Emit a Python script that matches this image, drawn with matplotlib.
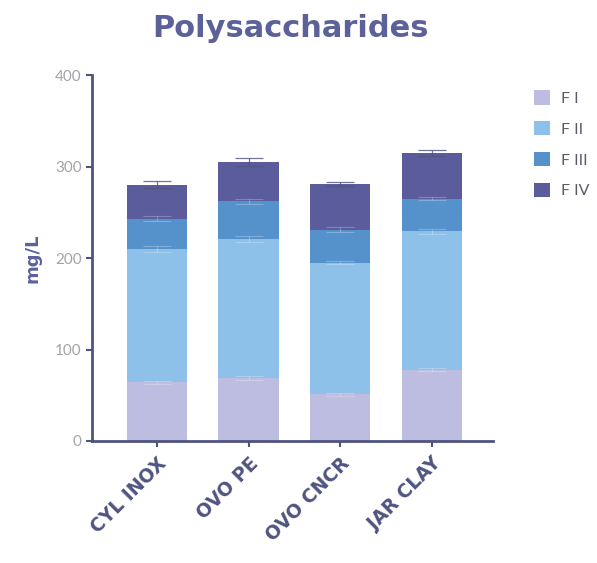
import matplotlib
matplotlib.use("Agg")
import matplotlib.pyplot as plt
import numpy as np
from matplotlib.patches import Patch

# Polysaccharide fractions per vessel (mg/L)
vessels = ["CYL INOX", "OVO PE", "OVO CNCR", "JAR CLAY"]
fractions = ["F I", "F II", "F III", "F IV"]
f1 = [64, 69, 51, 78]
f2 = [146, 152, 144, 151]
f3 = [33, 41, 36, 36]
f4 = [37, 43, 50, 50]
err1 = [2, 2, 2, 2]
err2 = [3, 3, 2, 3]
err3 = [3, 3, 3, 2]
err4 = [4, 4, 2, 3]

colors = ["#bcbde0", "#8dc1ea", "#5592cc", "#5b5c9c"]
axis_color = "#4f5380"
title_color = "#5d6199"
tick_color = "#a3a3a8"

plt.rcParams["font.family"] = ["Lato", "DejaVu Sans"]

fig = plt.figure(figsize=(5.97, 5.63), dpi=100)
ax = fig.add_axes([0.154, 0.2167, 0.672, 0.65])

x = np.arange(len(vessels))
width = 0.66
series = [f1, f2, f3, f4]
errs = [err1, err2, err3, err4]
bottom = np.zeros(len(vessels))
for i, (vals, e) in enumerate(zip(series, errs)):
    vals = np.array(vals, dtype=float)
    ax.bar(x, vals, width, bottom=bottom, color=colors[i], edgecolor="none",
           label=fractions[i], zorder=2)
    top = bottom + vals
    if i < len(series) - 1:
        ax.errorbar(x, top, yerr=e, fmt="none", ecolor="white", alpha=0.25,
                    elinewidth=0.8, capsize=10, capthick=0.8, zorder=3)
    else:
        ax.errorbar(x, top, yerr=e, fmt="none", ecolor=axis_color, alpha=0.8,
                    elinewidth=0.9, capsize=10, capthick=0.9, zorder=3)
    bottom = top

ax.set_xlim(-0.71, 3.67)
ax.set_ylim(0, 400)
ax.set_yticks([0, 100, 200, 300, 400])
ax.set_xticks(x)
ax.set_xticklabels(vessels, rotation=45, ha="right", rotation_mode="anchor",
                   fontsize=13.5, fontweight="bold", color=title_color,
                   family="DejaVu Sans")
ax.tick_params(axis="y", colors=axis_color, labelcolor=tick_color,
               labelsize=11, length=4, width=1.5)
ax.tick_params(axis="x", colors=axis_color, length=4, width=1.5, pad=5)

for side in ["top", "right"]:
    ax.spines[side].set_visible(False)
for side in ["left", "bottom"]:
    ax.spines[side].set_color(axis_color)
    ax.spines[side].set_linewidth(2)

ax.set_ylabel("mg/L", fontsize=13, fontweight="bold", color=title_color,
              labelpad=10, family="DejaVu Sans")

fig.text(0.487, 0.950, "Polysaccharides", ha="center", va="center",
         fontsize=22, fontweight="bold", color=title_color,
         family="DejaVu Sans")

handles = [Patch(facecolor=c, edgecolor="none") for c in colors]
fig.legend(handles, fractions, loc="upper left", bbox_to_anchor=(0.87, 0.865),
           frameon=False, fontsize=11.5, labelcolor="#5a5a66",
           handlelength=1.0, handleheight=1.0, handletextpad=0.7,
           labelspacing=0.95)

fig.savefig("out.png", dpi=100, facecolor="white")
